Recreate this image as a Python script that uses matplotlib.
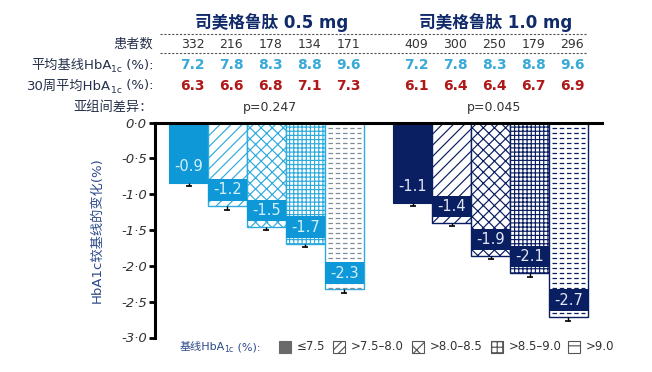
import matplotlib.pyplot as plt
import numpy as np
from matplotlib.lines import Line2D
from matplotlib.patches import Rectangle
from matplotlib.transforms import blended_transform_factory

plt.rcParams['font.family'] = ['DejaVu Sans', 'Noto Sans CJK SC']
plt.rcParams['hatch.linewidth'] = 0.85

# ---- data ----
groups = ['司美格鲁肽 0.5 mg', '司美格鲁肽 1.0 mg']
hba1c_bins = ['≤7.5', '>7.5–8.0', '>8.0–8.5', '>8.5–9.0', '>9.0']
patients_05 = [332, 216, 178, 134, 171]
patients_10 = [409, 300, 250, 179, 296]
baseline_05 = [7.2, 7.8, 8.3, 8.8, 9.6]
baseline_10 = [7.2, 7.8, 8.3, 8.8, 9.6]
week30_05 = [6.3, 6.6, 6.8, 7.1, 7.3]
week30_10 = [6.1, 6.4, 6.4, 6.7, 6.9]
p_values = ['p=0.247', 'p=0.045']
change_05 = [-0.85, -1.17, -1.46, -1.69, -2.33]
change_10 = [-1.12, -1.40, -1.86, -2.10, -2.71]
labels_05 = ['-0.9', '-1.2', '-1.5', '-1.7', '-2.3']
labels_10 = ['-1.1', '-1.4', '-1.9', '-2.1', '-2.7']
err_05 = [0.04, 0.05, 0.04, 0.05, 0.05]
err_10 = [0.04, 0.05, 0.04, 0.05, 0.06]

# colours
light_blue = '#0f98d7'
light_edge = '#2eaadc'
navy = '#0a1e62'
title_col = '#102a6a'
label_col = '#25304a'
base_col = '#38a9d8'
wk30_col = '#b01818'

W, H = 652, 372
fig = plt.figure(figsize=(W / 100, H / 100), dpi=100)
ax = fig.add_axes([155 / W, 1 - 337.5 / H, (602 - 155) / W, (337.5 - 122.5) / H])

x05 = np.arange(5)
x10 = np.arange(5) + 5.75
hatches = [None, '///', 'xxx', '++++', None]

group_specs = [
    (x05, change_05, labels_05, err_05, light_blue, light_edge, '#7d8c98', '#d4f0fb'),
    (x10, change_10, labels_10, err_10, navy, navy, navy, '#e2e8f6'),
]

for xs, vals, labs, errs, col, hcol, dcol, tcol in group_specs:
    for i in range(5):
        x, v = xs[i], vals[i]
        if i == 0:
            ax.bar(x, v, width=1, color=col, edgecolor=col, lw=0.8, zorder=1)
        else:
            ax.bar(x, v, width=1, facecolor='white', edgecolor=hcol,
                   hatch=hatches[i], lw=1, zorder=1)
        if i == 4:
            # dashed horizontal fill for the >9.0 bar
            ys = np.arange(-0.07, v, -0.07)
            ax.hlines(ys, x - 0.42, x + 0.42, colors=dcol, lw=0.9,
                      linestyles=(0, (3.6, 2.2)), zorder=1.2)
        # value box near the bottom of the bar
        ax.bar(x, 0.3, bottom=v + 0.08, width=1, color=col, lw=0, zorder=1.5)
        ax.text(x, v + 0.23, labs[i], ha='center', va='center', color=tcol,
                fontsize=10.5, zorder=3)
    lo = np.array(vals) - np.array(errs)
    ax.vlines(xs, vals, lo, colors='black', lw=1, zorder=2)
    ax.plot(xs, lo, ls='none', marker='_', ms=5, mew=1.2, color='black', zorder=2)

ax.set_xlim(-0.86, 10.61)
ax.set_ylim(-3.0, 0.0)
ax.set_xticks([])
yt = np.arange(0, -3.01, -0.5)
ax.set_yticks(yt)
ax.set_yticklabels([f'{t:.1f}'.replace('.', '·').replace('-0·0', '0·0') for t in yt],
                   fontstyle='italic')
ax.tick_params(axis='y', direction='out', length=4, width=2, labelsize=9.5,
               labelcolor='#333333', pad=2)
for s in ['bottom', 'right']:
    ax.spines[s].set_visible(False)
for s in ['left', 'top']:
    ax.spines[s].set_linewidth(2.2)
    ax.spines[s].set_zorder(4)

fig.text(97 / W, 1 - 230 / H, 'HbA1c较基线的变化(%)', rotation=90, ha='center',
         va='center', color='#2d4a8a', fontsize=9.5)

# ---- header table ----
bt = blended_transform_factory(ax.transData, fig.transFigure)


def fy(py):
    return 1 - py / H


for gi, (xs, name) in enumerate([(x05, groups[0]), (x10, groups[1])]):
    fig.text(xs.mean() + 0.12, fy(22), name, transform=bt, ha='center', va='center',
             fontsize=12, fontweight='bold', color=title_col)
    fig.text(xs.mean() + 0.1, fy(107), p_values[gi], transform=bt, ha='center',
             va='center', fontsize=9, color='#333333')

rows = [
    (patients_05 + patients_10, 44, '#333333', 'normal', 9),
    (baseline_05 + baseline_10, 65, base_col, 'bold', 10),
    (week30_05 + week30_10, 86, wk30_col, 'bold', 10),
]
all_x = np.concatenate([x05, x10])
for vals, py, c, w, fs in rows:
    for x, v in zip(all_x, vals):
        fig.text(x + 0.1, fy(py), str(v), transform=bt, ha='center', va='center',
                 color=c, fontweight=w, fontsize=fs)

for py in [34, 53]:
    fig.add_artist(Line2D([160 / W, 587 / W], [fy(py)] * 2, ls=(0, (2, 1.5)),
                          color='#555555', lw=0.8))


def sub_label_right(x, y, pre, sub, post, fs, color):
    t_post = fig.text(x, y, post, ha='right', va='center', fontsize=fs, color=color)
    t_sub = ax.annotate(sub, xy=(0, 0), xycoords=t_post, xytext=(0, -1.5),
                        textcoords='offset points', ha='right', va='bottom',
                        fontsize=fs * 0.7, color=color, annotation_clip=False)
    ax.annotate(pre, xy=(0, 0), xycoords=(t_sub, t_post), xytext=(0.6, 0),
                textcoords='offset points', ha='right', va='bottom',
                fontsize=fs, color=color, annotation_clip=False)


def sub_label_left(x, y, pre, sub, post, fs, color):
    t_pre = fig.text(x, y, pre, ha='left', va='center', fontsize=fs, color=color)
    t_sub = ax.annotate(sub, xy=(1, 0), xycoords=t_pre, xytext=(-0.5, -1.5),
                        textcoords='offset points', ha='left', va='bottom',
                        fontsize=fs * 0.7, color=color, annotation_clip=False)
    ax.annotate(post, xy=(1, 0), xycoords=(t_sub, t_pre), ha='left', va='bottom',
                fontsize=fs, color=color, annotation_clip=False)


lx = 153 / W
fig.text(lx, fy(44), '患者数', ha='right', va='center', fontsize=9.5, color=label_col)
sub_label_right(lx, fy(65), '平均基线HbA', '1c', ' (%):', 9.5, label_col)
sub_label_right(lx, fy(86), '30周平均HbA', '1c', ' (%):', 9.5, label_col)
fig.text(lx, fy(107), '亚组间差异：', ha='right', va='center', fontsize=9.5, color=label_col)

# ---- legend ----
sub_label_left(180 / W, fy(347), '基线HbA', '1c', ' (%):', 8, '#2d4a8a')
leg_x = [279, 333, 412, 491, 568]
leg_hatch = [None, '////', 'x', '+++', '--']
for i, (px, hb) in enumerate(zip(leg_x, hba1c_bins)):
    if i == 0:
        r = Rectangle((px / W, fy(353)), 12 / W, 12 / H, transform=fig.transFigure,
                      facecolor='#6a6a6a', edgecolor='#6a6a6a', lw=0.8)
    else:
        r = Rectangle((px / W, fy(353)), 12 / W, 12 / H, transform=fig.transFigure,
                      facecolor='white', edgecolor='#555555', hatch=leg_hatch[i], lw=0.8)
    fig.add_artist(r)
    fig.text((px + 18) / W, fy(347), hb, ha='left', va='center', fontsize=8.5,
             color='#333333')

fig.savefig('out.png', dpi=100)
